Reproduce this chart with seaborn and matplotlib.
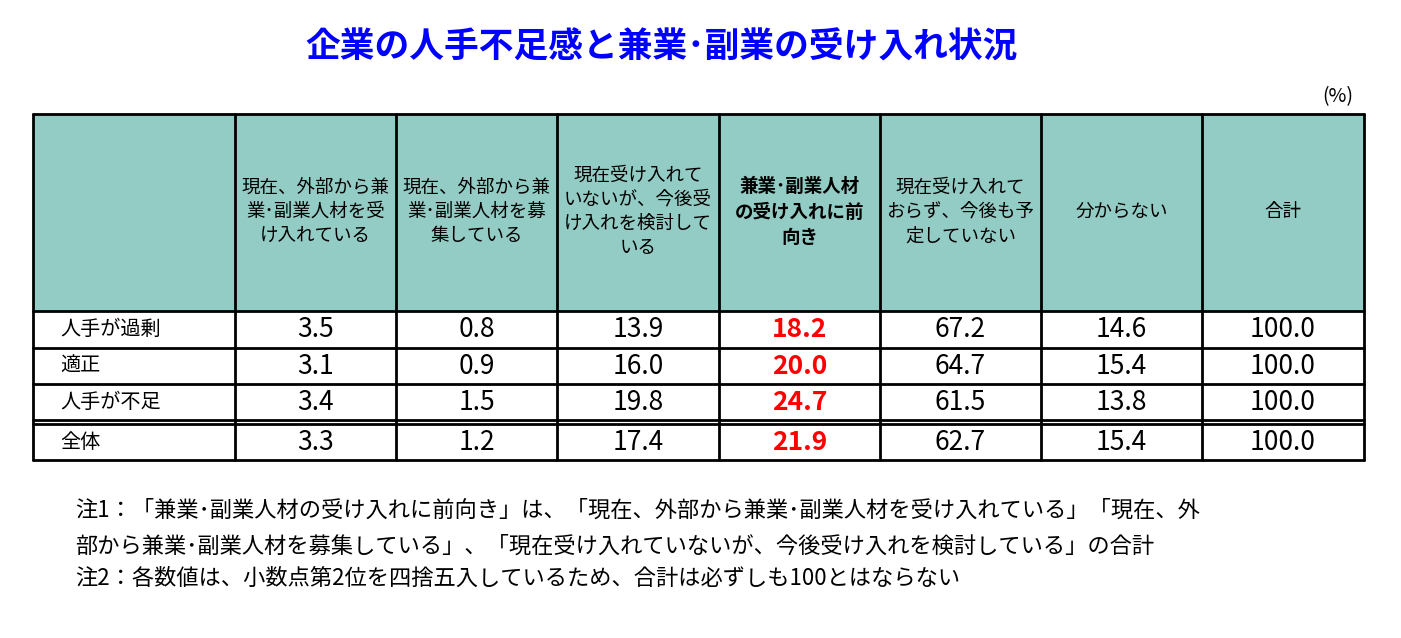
import matplotlib.pyplot as plt
import seaborn as sns

sns.set_theme(style="white")
plt.rcParams['font.family'] = ['Noto Sans CJK JP', 'DejaVu Sans']

title = "企業の人手不足感と兼業･副業の受け入れ状況"
headers = ["現在、外部から兼\n業･副業人材を受\nけ入れている",
           "現在、外部から兼\n業･副業人材を募\n集している",
           "現在受け入れて\nいないが、今後受\nけ入れを検討して\nいる",
           "兼業･副業人材\nの受け入れに前\n向き",
           "現在受け入れて\nおらず、今後も予\n定していない",
           "分からない",
           "合計"]
row_labels = ["人手が過剰", "適正", "人手が不足", "全体"]
accepting = [3.5, 3.1, 3.4, 3.3]
recruiting = [0.8, 0.9, 1.5, 1.2]
considering = [13.9, 16.0, 19.8, 17.4]
positive = [18.2, 20.0, 24.7, 21.9]
no_plan = [67.2, 64.7, 61.5, 62.7]
unknown = [14.6, 15.4, 13.8, 15.4]
total = [100.0, 100.0, 100.0, 100.0]
columns = [accepting, recruiting, considering, positive, no_plan, unknown, total]
notes = ["注1：「兼業･副業人材の受け入れに前向き」は、「現在、外部から兼業･副業人材を受け入れている」「現在、外",
         "部から兼業･副業人材を募集している」、「現在受け入れていないが、今後受け入れを検討している」の合計",
         "注2：各数値は、小数点第2位を四捨五入しているため、合計は必ずしも100とはならない"]

W, H = 1401, 638
fig = plt.figure(figsize=(W / 100, H / 100), dpi=100)
ax = fig.add_axes([0, 0, 1, 1])
ax.set_xlim(0, W)
ax.set_ylim(H, 0)
ax.axis("off")

xs = [33, 235, 396, 557, 719, 880, 1041, 1202, 1364]
head_top, head_bot = 114, 311
row_edges = [311, 348, 384, 420, 460]
teal = "#93CCC4"

ax.add_patch(plt.Rectangle((xs[0], head_top), xs[-1] - xs[0], head_bot - head_top,
                           facecolor=teal, edgecolor="none"))
lw = 2
for x in xs:
    ax.plot([x, x], [head_top, row_edges[-1]], color="black", lw=lw)
for y in [head_top, head_bot] + row_edges[1:]:
    ax.plot([xs[0], xs[-1]], [y, y], color="black", lw=lw)
ax.plot([xs[0], xs[-1]], [424, 424], color="black", lw=lw)

ax.text(662, 47, title, ha="center", va="center", fontsize=25, fontweight="bold", color="#0000FF")
ax.text(1338, 97, "(%)", ha="center", va="center", fontsize=14, color="black")

for i, h in enumerate(headers):
    cx = (xs[i + 1] + xs[i + 2]) / 2
    bold = i == 3
    ax.text(cx, 212, h, ha="center", va="center", fontsize=13.3, linespacing=1.45,
            fontweight="bold" if bold else "normal", color="black")

centers = [(row_edges[0] + row_edges[1]) / 2, (row_edges[1] + row_edges[2]) / 2,
           (row_edges[2] + row_edges[3]) / 2, (424 + row_edges[4]) / 2]
for r, label in enumerate(row_labels):
    cy = centers[r]
    ax.text(60, cy, label, ha="left", va="center", fontsize=14.5, color="black")
    for c, col in enumerate(columns):
        cx = (xs[c + 1] + xs[c + 2]) / 2
        red = c == 3
        ax.text(cx, cy, f"{col[r]:.1f}", ha="center", va="center", fontsize=19,
                color="#FF0000" if red else "black", fontweight="bold" if red else "normal")

for y, n in zip([510, 546, 578], notes):
    ax.text(75, y, n, ha="left", va="center", fontsize=16, color="black")

fig.savefig("out.png", dpi=100)
